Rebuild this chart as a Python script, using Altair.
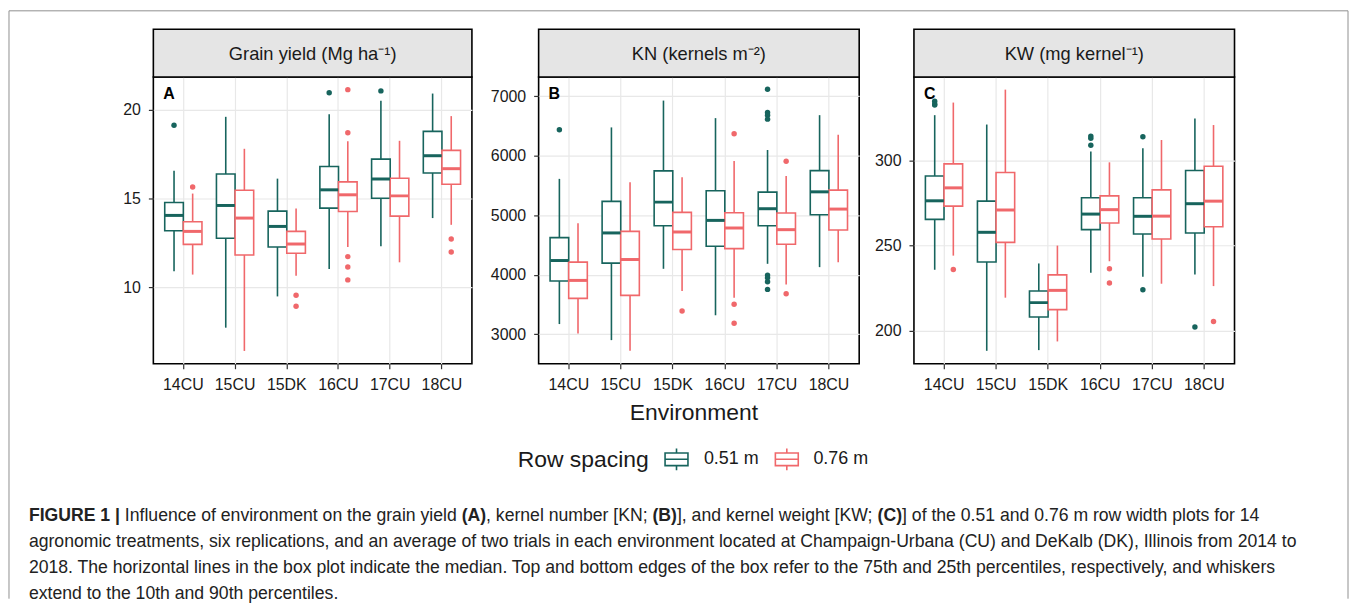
import altair as alt
import pandas as pd

ENVS = ["14CU", "15CU", "15DK", "16CU", "17CU", "18CU"]
SPACINGS = ["0.51 m", "0.76 m"]
COLORS = ["#17645d", "#f0686b"]

# (10th pct, Q1, median, Q3, 90th pct) per environment
GY_051 = [(10.9, 13.18, 14.04, 14.77, 16.56), (7.72, 12.75, 14.6, 16.37, 19.59),
          (9.48, 12.26, 13.42, 14.28, 16.11), (11.03, 14.45, 15.48, 16.79, 19.74),
          (12.3, 15.01, 16.09, 17.21, 20.49), (13.89, 16.43, 17.4, 18.77, 20.9)]
GY_076 = [(10.71, 12.41, 13.14, 13.68, 15.27), (6.41, 11.81, 13.89, 15.46, 17.79),
          (10.64, 11.91, 12.43, 13.14, 14.43), (12.26, 14.26, 15.2, 15.93, 18.22),
          (11.4, 14.0, 15.14, 16.13, 18.24), (13.51, 15.79, 16.67, 17.7, 19.63)]
GY_OUT_051 = {"14CU": [19.12], "16CU": [20.95], "17CU": [21.05]}
GY_OUT_076 = {"14CU": [15.64], "15DK": [9.55, 8.93],
              "16CU": [21.12, 18.69, 11.72, 11.14, 10.41], "18CU": [12.71, 11.98]}

KN_051 = [(3170, 3893, 4238, 4623, 5611), (2900, 4194, 4702, 5232, 6476),
          (4099, 4824, 5220, 5745, 6927), (3318, 4478, 4913, 5410, 6632),
          (4183, 4824, 5109, 5388, 6096), (4127, 5008, 5393, 5750, 6682)]
KN_076 = [(3010, 3602, 3904, 4211, 4863), (2721, 3653, 4255, 4729, 5555),
          (3725, 4423, 4718, 5047, 5639), (3614, 4439, 4785, 5042, 5912),
          (3837, 4512, 4757, 5036, 5661), (4211, 4752, 5103, 5421, 6353)]
KN_OUT_051 = {"14CU": [6437], "17CU": [7117, 6727, 6682, 6615, 3993, 3948, 3881, 3753]}
KN_OUT_076 = {"15DK": [3391], "16CU": [6370, 3502, 3184], "17CU": [5907, 3681]}

KW_051 = [(235.9, 265.5, 276.4, 291.0, 326.7), (188.3, 240.5, 257.9, 276.2, 321.2),
          (188.7, 208.2, 216.6, 223.4, 239.6), (234.1, 259.5, 268.6, 278.2, 305.3),
          (231.8, 256.9, 267.3, 278.2, 307.2), (233.1, 257.5, 274.7, 294.2, 324.8)]
KW_076 = [(244.2, 273.3, 284.0, 298.1, 334.1), (219.5, 252.0, 271.0, 293.0, 341.7),
          (193.8, 212.5, 223.8, 232.9, 250.1), (240.9, 263.4, 271.2, 279.3, 299.0),
          (227.7, 254.0, 267.4, 282.8, 312.1), (226.3, 261.2, 276.2, 296.7, 320.9)]
KW_OUT_051 = {"14CU": [334.9, 333.3, 332.6], "16CU": [314.4, 313.1, 309.0],
              "17CU": [314.0, 224.2], "18CU": [202.3]}
KW_OUT_076 = {"14CU": [236.1], "16CU": [236.5, 228.1], "18CU": [205.5]}

CAPTION = [
    [("FIGURE 1 |", True), (" Influence of environment on the grain yield ", False), ("(A)", True),
     (", kernel number [KN; ", False), ("(B)", True), ("], and kernel weight [KW; ", False),
     ("(C)", True), ("] of the 0.51 and 0.76 m row width plots for 14", False)],
    [("agronomic treatments, six replications, and an average of two trials in each environment "
      "located at Champaign-Urbana (CU) and DeKalb (DK), Illinois from 2014 to", False)],
    [("2018. The horizontal lines in the box plot indicate the median. Top and bottom edges of the box "
      "refer to the 75th and 25th percentiles, respectively, and whiskers", False)],
    [("extend to the 10th and 90th percentiles.", False)],
]

FONT = "Liberation Sans"
TXT = "#1a1a1a"
H = 288
PAD_IN, PAD_OUT = 0.28, 0.22

# Arial-compatible advance widths (1/1000 em) for caption layout
_REG = {" ": 278, "!": 278, "(": 333, ")": 333, ",": 278, "-": 333, ".": 278, ";": 278,
        "[": 278, "]": 278, "|": 260, ":": 278}
for c in "0123456789":
    _REG[c] = 556
_REG.update(dict(A=667, B=667, C=722, D=722, E=667, F=611, G=778, H=722, I=278, J=500, K=667,
                 L=556, M=833, N=722, O=778, P=667, Q=778, R=722, S=667, T=611, U=722, V=667,
                 W=944, X=667, Y=667, Z=611))
_REG.update(dict(a=556, b=556, c=500, d=556, e=556, f=278, g=556, h=556, i=222, j=222, k=500,
                 l=222, m=833, n=556, o=556, p=556, q=556, r=333, s=500, t=278, u=556, v=500,
                 w=722, x=500, y=500, z=500))
_BOLD = {" ": 278, "(": 333, ")": 333, "|": 280, "A": 722, "B": 722, "C": 722, "E": 667,
         "F": 611, "G": 778, "I": 278, "R": 722, "U": 722}
for c in "0123456789":
    _BOLD[c] = 556


def units(s, bold):
    tab = _BOLD if bold else _REG
    return sum(tab.get(ch, _REG.get(ch, 556)) for ch in s)


def box_frame(s051, s076):
    rows = []
    for sp, stats in zip(SPACINGS, [s051, s076]):
        for env, (lo, q1, med, q3, hi) in zip(ENVS, stats):
            rows.append(dict(env=env, spacing=sp, lo=lo, q1=q1, med=med, q3=q3, hi=hi))
    return pd.DataFrame(rows)


def out_frame(o051, o076):
    rows = []
    for sp, d in zip(SPACINGS, [o051, o076]):
        for env, vals in d.items():
            for v in vals:
                rows.append(dict(env=env, spacing=sp, val=v))
    return pd.DataFrame(rows)


CSCALE = alt.Scale(domain=SPACINGS, range=COLORS)


def panel(title, letter, s051, s076, o051, o076, domain, ticks, width):
    step = width / (len(ENVS) - PAD_IN + 2 * PAD_OUT)
    half = step * (1 - PAD_IN) / 2
    boxes_df = box_frame(s051, s076)
    outs_df = out_frame(o051, o076)
    xax = alt.Axis(title=None, labelAngle=0, grid=True, bandPosition=0.5, labelFontSize=16,
                   labelColor=TXT, labelPadding=8, tickSize=5, domain=False)
    X = alt.X("env:N", sort=ENVS,
              scale=alt.Scale(domain=ENVS, paddingInner=PAD_IN, paddingOuter=PAD_OUT), axis=xax)
    XO = alt.XOffset("spacing:N", sort=SPACINGS,
                     scale=alt.Scale(domain=SPACINGS, paddingInner=0, paddingOuter=0))
    ys = alt.Scale(domain=domain, nice=False, zero=False)
    yax = alt.Axis(title=None, values=ticks, format="d", grid=True, labelFontSize=16,
                   labelColor=TXT, labelPadding=8, tickSize=5, domain=False)

    def Y(f):
        return alt.Y(f"{f}:Q", scale=ys, axis=yax)

    stroke = alt.Stroke("spacing:N", scale=CSCALE, legend=None)
    fill = alt.Color("spacing:N", scale=CSCALE, legend=None)

    strip = alt.Chart(pd.DataFrame({"t": [title]})).mark_rect(
        fill="#e5e5e5", stroke="black", strokeWidth=1.6).encode(
        x=alt.value(0), x2=alt.value(width), y=alt.value(-48), y2=alt.value(0))
    strip_txt = alt.Chart(pd.DataFrame({"t": [title]})).mark_text(
        fontSize=18.4, color=TXT, baseline="middle", align="center").encode(
        x=alt.value(width / 2), y=alt.value(-23), text="t:N")
    lab = alt.Chart(pd.DataFrame({"t": [letter]})).mark_text(
        fontSize=16, fontWeight="bold", color="black", baseline="middle", align="left").encode(
        x=alt.value(10), y=alt.value(17), text="t:N")

    whisk = alt.Chart(boxes_df).mark_rule(strokeWidth=1.6).encode(
        x=X, xOffset=XO, y=Y("lo"), y2="hi:Q", stroke=stroke)
    box = alt.Chart(boxes_df).mark_bar(fill="white", strokeWidth=1.6).encode(
        x=X, xOffset=XO, y=Y("q1"), y2="q3:Q", stroke=stroke)
    med = alt.Chart(boxes_df).mark_tick(thickness=3, size=half - 0.5, opacity=1).encode(
        x=X, xOffset=XO, y=Y("med"), color=fill)
    pts = alt.Chart(outs_df).mark_circle(size=30, opacity=1).encode(
        x=X, xOffset=XO, y=Y("val"), color=fill)

    return alt.layer(whisk, box, med, pts, strip, strip_txt, lab).properties(
        width=width, height=H, view=alt.ViewBackground(stroke="black", strokeWidth=1.6))


pA = panel("Grain yield (Mg ha\u207b\u00b9)", "A", GY_051, GY_076, GY_OUT_051, GY_OUT_076,
           [5.69, 21.83], [10, 15, 20], 320)
pB = panel("KN (kernels m\u207b\u00b2)", "B", KN_051, KN_076, KN_OUT_051, KN_OUT_076,
           [2503, 7323], [3000, 4000, 5000, 6000, 7000], 322)
pC = panel("KW (mg kernel\u207b\u00b9)", "C", KW_051, KW_076, KW_OUT_051, KW_OUT_076,
           [180.7, 349.1], [200, 250, 300], 322)

# ---- bottom block: axis title, legend, caption and figure frame (pixel layout) ----
BOTTOM_W = 1086
CAP_X0 = -125
CAP_TARGET = 1236
CAP_Y = [131, 157, 183, 209]
line1_units = sum(units(s, b) for s, b in CAPTION[0])
CAP_FS = CAP_TARGET * 1000 / line1_units

cap_rows = []
for li, line in enumerate(CAPTION):
    cur = 0.0
    for seg, bold in line:
        lead = len(seg) - len(seg.lstrip(" "))
        xpos = CAP_X0 + (cur + units(" " * lead, bold)) * CAP_FS / 1000
        if seg.strip():
            cap_rows.append(dict(txt=seg.strip(), px=xpos, py=CAP_Y[li], bold=bold))
        cur += units(seg, bold)
cap_df = pd.DataFrame(cap_rows)

PX = alt.X("px:Q", scale=None, axis=None)
PY = alt.Y("py:Q", scale=None, axis=None)
cap_enc = dict(x=PX, y=PY, text="txt:N")
cap_norm = alt.Chart(cap_df).transform_filter("!datum.bold").mark_text(
    align="left", baseline="middle", fontSize=CAP_FS, color="#222222").encode(**cap_enc)
cap_bold = alt.Chart(cap_df).transform_filter("datum.bold").mark_text(
    align="left", baseline="middle", fontSize=CAP_FS, fontWeight="bold", color="#222222").encode(**cap_enc)

env_title = alt.Chart(pd.DataFrame({"txt": ["Environment"], "px": [543], "py": [28]})).mark_text(
    align="center", baseline="middle", fontSize=23, color=TXT).encode(**cap_enc)

# legend: title, box-plot key glyphs and labels
LEG_Y = 74
SYMBOL = "M-1,-0.55H1V0.55H-1Z M-1,0H1 M0,-0.55V-0.95 M0,0.55V0.95"
leg_title = alt.Chart(pd.DataFrame({"txt": ["Row spacing"], "px": [366], "py": [LEG_Y + 1]})).mark_text(
    align="left", baseline="middle", fontSize=23, color=TXT).encode(**cap_enc)
leg_df = pd.DataFrame({"spacing": SPACINGS, "px": [525.5, 636.3], "lx": [553, 663], "py": [LEG_Y, LEG_Y]})
leg_keys = alt.Chart(leg_df).mark_point(shape=SYMBOL, size=529, filled=False, strokeWidth=1.6,
                                        opacity=1).encode(
    x=PX, y=PY, stroke=alt.Stroke("spacing:N", scale=CSCALE, legend=None))
leg_labels = alt.Chart(leg_df).mark_text(align="left", baseline="middle", fontSize=18,
                                         color=TXT).encode(
    x=alt.X("lx:Q", scale=None, axis=None), y=PY, text="spacing:N")

frame_df = pd.DataFrame({"x1": [-145, -145, 1200], "x2": [-145, 1200, 1200],
                         "y1": [-376.5, -376.5, -376.5], "y2": [214, -376.5, 214]})
frame = alt.Chart(frame_df).mark_rule(color="#8f8f8f", strokeWidth=1).encode(
    x=alt.X("x1:Q", scale=None, axis=None), x2="x2:Q",
    y=alt.Y("y1:Q", scale=None, axis=None), y2="y2:Q")

bottom = alt.layer(frame, env_title, leg_title, leg_keys, leg_labels, cap_norm, cap_bold).properties(
    width=BOTTOM_W, height=180, view=alt.ViewBackground(stroke="transparent"))

bc = alt.hconcat(pB, pC, spacing=55, bounds="flush").resolve_scale(x="independent", y="independent")
panels = alt.hconcat(pA, bc, spacing=67, bounds="flush").resolve_scale(x="independent", y="independent")

# with flush bounds the nested concat contributes no height, so the gap includes the panel height
chart = alt.vconcat(panels, bottom, spacing=H + 22, bounds="flush").resolve_scale(
    x="independent", y="independent").properties(padding=0).configure(
    font=FONT).configure_axis(
    gridColor="#e8e8e8", gridWidth=1.2, tickColor="#333333", tickWidth=1.2,
    labelFont=FONT).configure_view(stroke="transparent")

chart.save("out.html", embed_options={"renderer": "svg", "actions": False})
